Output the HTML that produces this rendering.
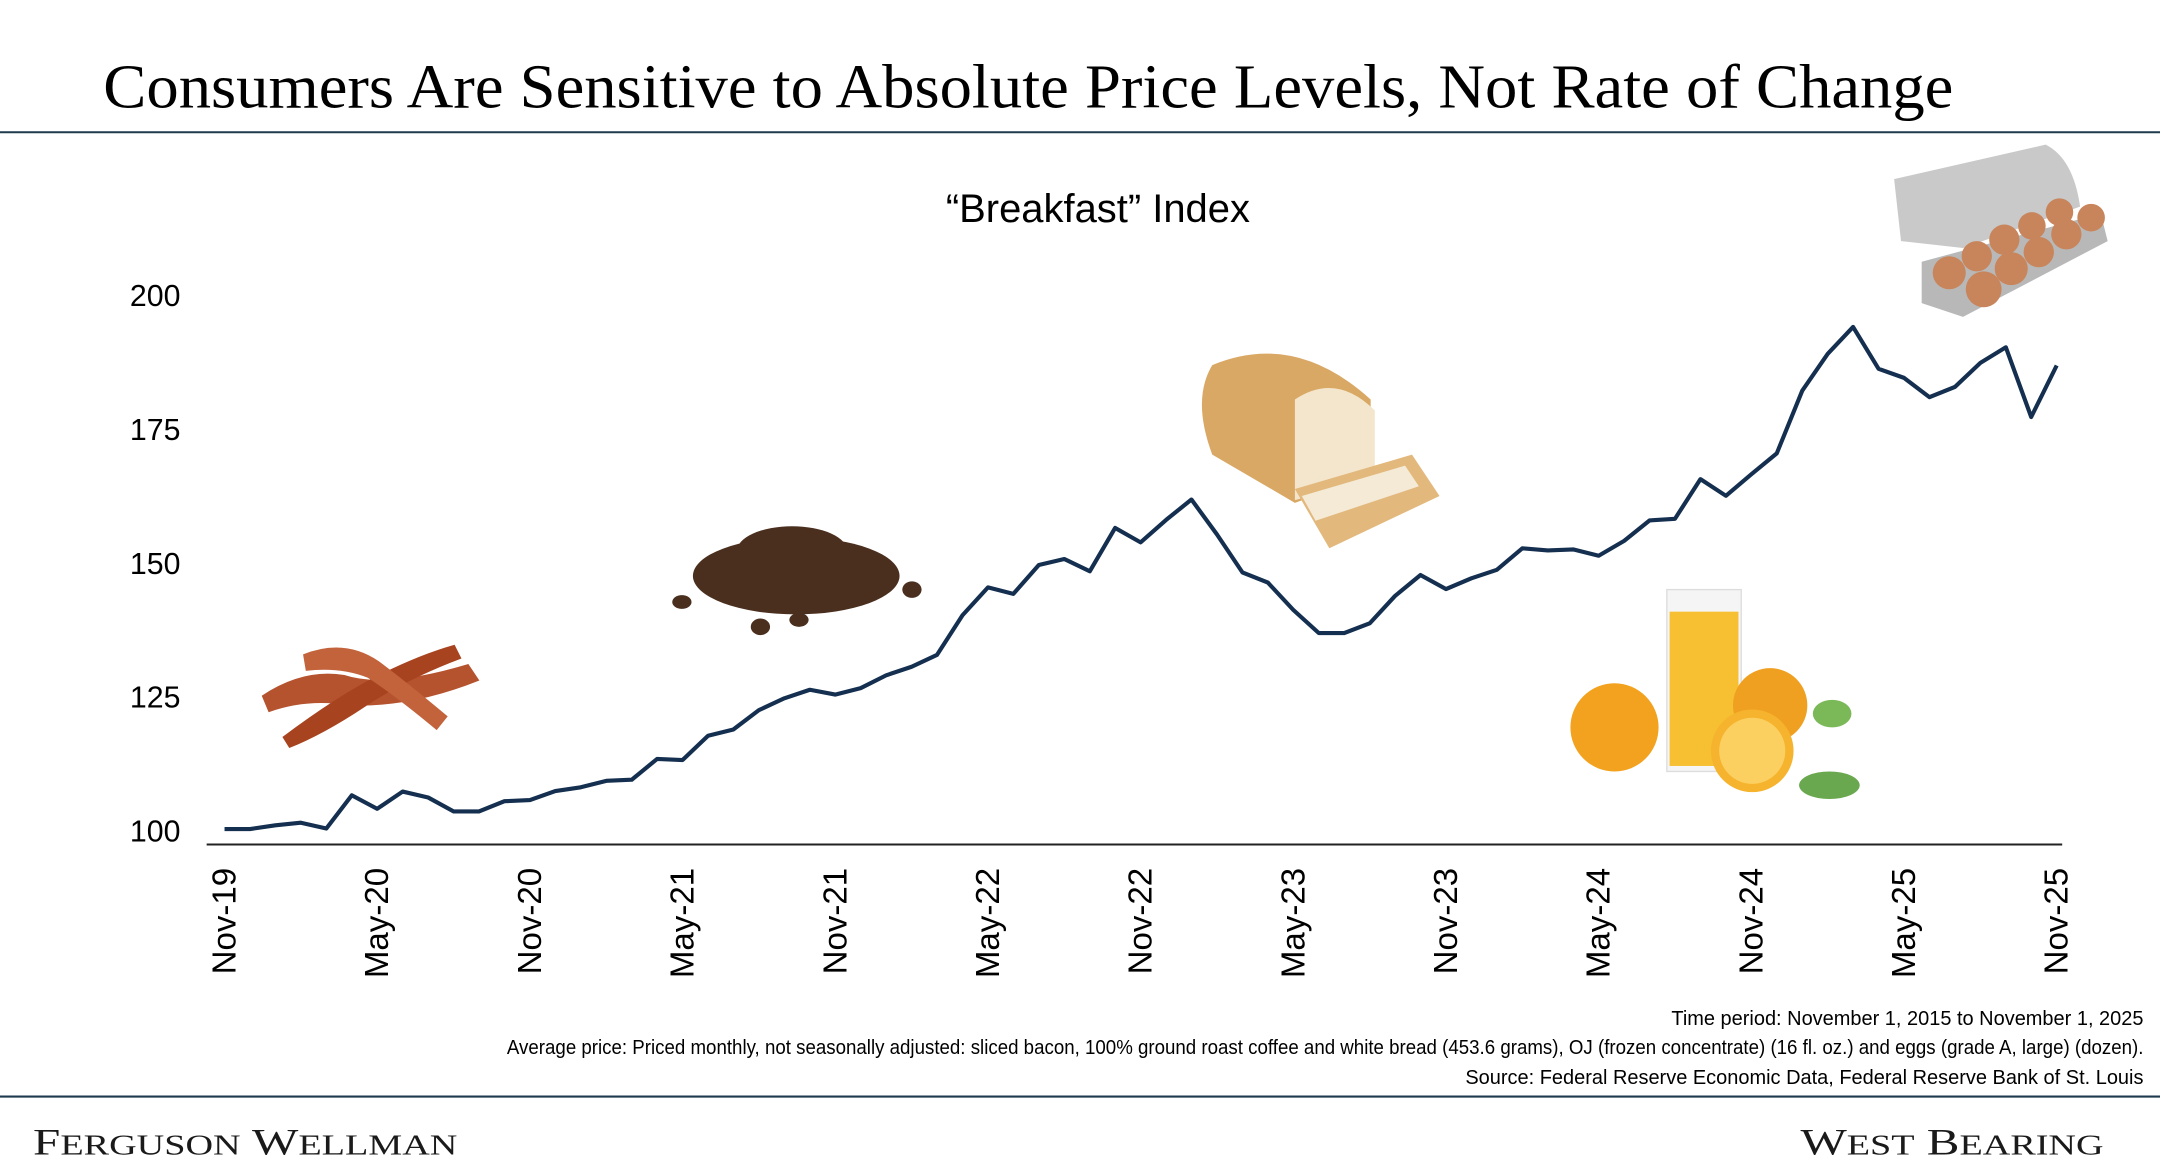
<!DOCTYPE html>
<html><head><meta charset="utf-8"><style>
html,body{margin:0;padding:0;background:#fff;}
svg{display:block;}
</style></head><body>
<svg id="chart" width="2160" height="1174" viewBox="0 0 1568 852.2" preserveAspectRatio="none" xmlns="http://www.w3.org/2000/svg">
<text x="75" y="78" font-family="Liberation Serif, serif" font-size="45" textLength="1343" lengthAdjust="spacingAndGlyphs" fill="#000">Consumers Are Sensitive to Absolute Price Levels, Not Rate of Change</text>
<line x1="0" y1="96" x2="1568" y2="96" stroke="#1f3a4d" stroke-width="1.5"/>
<text x="797" y="161" text-anchor="middle" font-family="Liberation Sans, sans-serif" font-size="29" fill="#000">“Breakfast” Index</text>
<g id="yaxis"></g>
<g id="xaxis"></g>
<g>
 <g>
  <path d="M190 505 q30 -20 60 -15 q30 10 90 -8 l8 12 q-50 20 -95 18 q-30 -5 -58 5z" fill="#b5532f"/>
  <path d="M205 535 q40 -30 70 -45 q30 -15 55 -22 l5 10 q-40 15 -70 35 q-30 20 -55 30z" fill="#a8431f"/>
  <path d="M220 475 q30 -12 55 5 q20 15 50 40 l-8 10 q-30 -25 -50 -38 q-20 -8 -45 -5z" fill="#c2633c"/>
 </g>
 <g fill="#4a2e1e">
  <ellipse cx="578" cy="418" rx="75" ry="28"/>
  <ellipse cx="575" cy="400" rx="40" ry="18"/>
  <ellipse cx="495" cy="437" rx="7" ry="5"/><ellipse cx="552" cy="455" rx="7" ry="6"/><ellipse cx="662" cy="428" rx="7" ry="6"/><ellipse cx="580" cy="450" rx="7" ry="5"/>
 </g>
 <g>
  <path d="M880 265 q60 -25 115 25 l0 55 l-55 20 l-60 -35 q-15 -40 0 -65z" fill="#d9a865"/>
  <path d="M940 290 q30 -20 58 8 l0 50 l-58 15z" fill="#f3e6cc"/>
  <path d="M940 355 l85 -25 l20 30 l-80 38 z" fill="#e2b87c"/>
  <path d="M945 360 l75 -22 l10 15 l-75 25z" fill="#f4ead6"/>
 </g>
 <g>
  <circle cx="1172" cy="528" r="32" fill="#f2a21e"/>
  <rect x="1210" y="428" width="54" height="132" fill="#f5f5f5" stroke="#ddd"/>
  <rect x="1212" y="444" width="50" height="112" fill="#f7c032"/>
  <circle cx="1285" cy="512" r="27" fill="#f0a020"/>
  <circle cx="1272" cy="545" r="30" fill="#f5b32e"/>
  <circle cx="1272" cy="545" r="24" fill="#fcd060"/>
  <ellipse cx="1328" cy="570" rx="22" ry="10" fill="#6aa84f"/>
  <ellipse cx="1330" cy="518" rx="14" ry="10" fill="#7ab858"/>
 </g>
 <g>
  <path d="M1375 130 l110 -25 q20 10 25 45 l-85 30 l-45 -5z" fill="#c9c9c9"/>
  <path d="M1395 190 l130 -35 l5 20 l-105 55 l-30 -10z" fill="#b8b8b8"/>
  <g fill="#c8845a"><circle cx="1440" cy="210" r="13"/><circle cx="1460" cy="195" r="12"/><circle cx="1480" cy="183" r="11"/><circle cx="1500" cy="170" r="11"/><circle cx="1518" cy="158" r="10"/><circle cx="1415" cy="198" r="12"/><circle cx="1435" cy="186" r="11"/><circle cx="1455" cy="174" r="11"/><circle cx="1475" cy="164" r="10"/><circle cx="1495" cy="154" r="10"/></g>
 </g>
</g>
<line x1="150" y1="613" x2="1497" y2="613" stroke="#222" stroke-width="1.5"/>
<path id="series" fill="none" stroke="#142f4f" stroke-width="3" stroke-linejoin="round"/>
<g font-family="Liberation Sans, sans-serif" font-size="14.5" text-anchor="end" fill="#000">
 <text x="1556" y="744">Time period: November 1, 2015 to November 1, 2025</text>
 <text x="1556" y="765" textLength="1188" lengthAdjust="spacingAndGlyphs">Average price: Priced monthly, not seasonally adjusted: sliced bacon, 100% ground roast coffee and white bread (453.6 grams), OJ (frozen concentrate) (16 fl. oz.) and eggs (grade A, large) (dozen).</text>
 <text x="1556" y="787">Source: Federal Reserve Economic Data, Federal Reserve Bank of St. Louis</text>
</g>
<line x1="0" y1="796" x2="1568" y2="796" stroke="#1f3a4d" stroke-width="1.5"/>
<text x="24" y="838" font-family="Liberation Serif, serif" font-size="27" fill="#1a1a1a" textLength="308" lengthAdjust="spacingAndGlyphs">F<tspan font-size="21">ERGUSON</tspan> W<tspan font-size="21">ELLMAN</tspan></text>
<text x="1527" y="838" text-anchor="end" font-family="Liberation Serif, serif" font-size="27" fill="#1a1a1a" textLength="220" lengthAdjust="spacingAndGlyphs">W<tspan font-size="21">EST</tspan> B<tspan font-size="21">EARING</tspan></text>
</svg>
<script>
const values = [100.3,100.3,101.0,101.5,100.4,106.6,104.1,107.3,106.2,103.6,103.6,105.5,105.7,107.4,108.1,109.3,109.5,113.4,113.2,117.7,118.9,122.5,124.7,126.3,125.4,126.6,129.0,130.6,132.8,140.2,145.4,144.2,149.6,150.7,148.4,156.5,153.8,158.0,161.8,155.3,148.2,146.3,141.2,136.9,136.9,138.7,143.8,147.7,145.1,147.1,148.7,152.7,152.3,152.5,151.3,154.1,157.9,158.2,165.6,162.5,166.5,170.4,182.1,189.0,194.0,186.2,184.5,180.9,182.8,187.3,190.2,177.2,186.8];
const xLabels = ["Nov-19","May-20","Nov-20","May-21","Nov-21","May-22","Nov-22","May-23","Nov-23","May-24","Nov-24","May-25","Nov-25"];
const yTicks = [100,125,150,175,200];
const NS="http://www.w3.org/2000/svg";
function xScale(i){return 163 + i*(1493-163)/72;}
function yScale(v){return 603 - (v-100)*3.89;}
let d="";
values.forEach((v,i)=>{d += (i?"L":"M")+xScale(i).toFixed(1)+" "+yScale(v).toFixed(1);});
document.getElementById('series').setAttribute('d',d);
const ya=document.getElementById('yaxis');
yTicks.forEach(t=>{
 const el=document.createElementNS(NS,'text');
 
 
 el.setAttribute('x',131);el.setAttribute('y',yScale(t)+8);
 el.setAttribute('text-anchor','end');
 el.setAttribute('font-family','Liberation Sans, sans-serif');
 el.setAttribute('font-size','22');
 el.textContent=t;ya.appendChild(el);
});
const xa=document.getElementById('xaxis');
xLabels.forEach((l,k)=>{
 const x=xScale(k*6);
 const el=document.createElementNS(NS,'text');
 
 
 el.setAttribute('transform','translate('+(x+8)+',630) rotate(-90)');
 el.setAttribute('text-anchor','end');
 el.setAttribute('font-family','Liberation Sans, sans-serif');
 el.setAttribute('font-size','24');
 el.textContent=l;xa.appendChild(el);
});
</script>
</body></html>
